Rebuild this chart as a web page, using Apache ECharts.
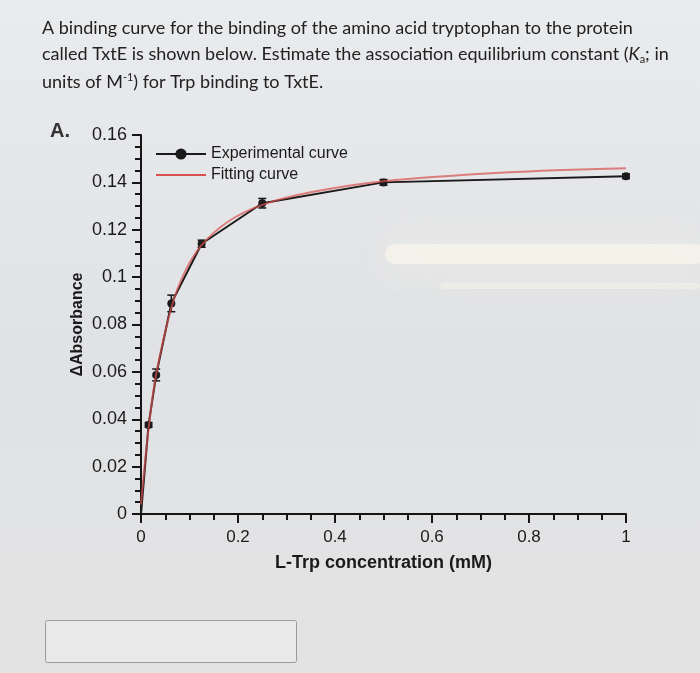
<!DOCTYPE html>
<html>
<head>
<meta charset="utf-8">
<script src="https://cdn.jsdelivr.net/npm/echarts@6/dist/echarts.min.js"></script>
<style>
  html, body { margin: 0; padding: 0; }
  #chart { width: 700px; height: 673px; }
</style>
</head>
<body>
<div id="chart"></div>
<script>
// experimental points (L-Trp mM, delta absorbance) + error
const expX = [0, 0.0156, 0.0313, 0.0625, 0.125, 0.25, 0.5, 1.0];
const expY = [0, 0.0376, 0.0587, 0.0889, 0.1141, 0.1312, 0.1400, 0.1426];
const expErr = [0, 0.001, 0.0025, 0.0035, 0.0015, 0.002, 0.0012, 0.001];

// fitting curve
const fitX = [0, 0.0156, 0.0313, 0.0625, 0.09, 0.125, 0.18, 0.25, 0.35, 0.5, 0.75, 1.0];
const fitY = [0.004, 0.036, 0.059, 0.087, 0.102, 0.1135, 0.1235, 0.1305, 0.1358, 0.1405, 0.1442, 0.146];

const questionLines = [
  "A binding curve for the binding of the amino acid tryptophan to the protein",
  "called TxtE is shown below. Estimate the association equilibrium constant ({i|K}{sub|a}; in",
  "units of M{sup|-1}) for Trp binding to TxtE."
];

const chart = echarts.init(document.getElementById("chart"));

const expData = expX.map((x, i) => ({
  value: [x, expY[i]],
  symbol: i === 0 ? "none" : "circle",
}));
const errData = expX.map((x, i) => [x, expY[i] - expErr[i], expY[i] + expErr[i]]);
const fitData = fitX.map((x, i) => [x, fitY[i]]);

const textFont = 'Lato, "Open Sans", sans-serif';
const axisFont = '"Liberation Sans", Arial, sans-serif';
const ink = "#151515";

let option = {
  backgroundColor: {
    type: "linear", x: 0, y: 0, x2: 0, y2: 1,
    colorStops: [
      { offset: 0, color: "#eaebed" },
      { offset: 0.5, color: "#e0e2e5" },
      { offset: 1, color: "#e3e3e3" },
    ],
  },
  animation: false,
  graphic: [
    // glare from the photo
    {
      type: "rect", z: 0, silent: true,
      shape: { x: 385, y: 244, width: 320, height: 20, r: 10 },
      style: { fill: "rgba(255,251,236,0.55)", shadowBlur: 45, shadowColor: "rgba(255,250,230,1)" },
    },
    {
      type: "rect", z: 0, silent: true,
      shape: { x: 440, y: 283, width: 260, height: 6, r: 3 },
      style: { fill: "rgba(255,251,236,0.35)", shadowBlur: 24, shadowColor: "rgba(255,250,230,0.9)" },
    },
    ...questionLines.map((t, i) => ({
      type: "text", left: 42, top: 19 + i * 26.5, z: 10,
      style: {
        text: t,
        font: `18px ${textFont}`,
        fill: "#222",
        rich: {
          i: { fontStyle: "italic", fontSize: 18, fontFamily: textFont, fill: "#222" },
          sub: { fontSize: 11, fontFamily: textFont, fill: "#222", padding: [9, 0, 0, 0] },
          sup: { fontSize: 11, fontFamily: textFont, fill: "#222", padding: [0, 0, 9, 0] },
        },
      },
    })),
    {
      type: "text", left: 50, top: 121, z: 10,
      style: { text: "A.", font: `bold 20px ${axisFont}`, fill: "#333" },
    },
    // answer box
    {
      type: "rect", z: 10,
      shape: { x: 45.5, y: 620.5, width: 251, height: 42, r: 2 },
      style: { fill: "rgba(236,237,238,0.6)", stroke: "#9a9b9d", lineWidth: 1 },
    },
  ],
  grid: { left: 141, right: 74, top: 135, bottom: 159 },
  legend: {
    left: 150, top: 141, orient: "vertical",
    itemWidth: 50, itemHeight: 14, itemGap: 5,
    textStyle: { fontFamily: axisFont, fontSize: 16, color: "#1a1a1a" },
    data: [
      { name: "Experimental curve" },
      { name: "Fitting curve", icon: "path://M0,6 L50,6 L50,8 L0,8 Z" },
    ],
  },
  xAxis: {
    type: "value", min: 0, max: 1, interval: 0.2,
    name: "L-Trp concentration (mM)", nameLocation: "middle", nameGap: 40,
    nameMoveOverlap: false,
    nameTextStyle: { fontFamily: axisFont, fontSize: 18, fontWeight: "bold", color: "#1a1a1a" },
    axisLine: { lineStyle: { color: ink, width: 2 } },
    axisTick: { length: 9, lineStyle: { color: ink, width: 2 } },
    minorTick: { show: true, splitNumber: 4, length: 6, lineStyle: { color: ink, width: 2 } },
    splitLine: { show: false },
    axisLabel: { margin: 15, fontFamily: axisFont, fontSize: 17, color: "#1a1a1a" },
  },
  yAxis: {
    type: "value", min: 0, max: 0.16, interval: 0.02,
    name: "\u0394Absorbance", nameLocation: "middle", nameGap: 55, nameRotate: 90,
    nameMoveOverlap: false,
    nameTextStyle: { fontFamily: axisFont, fontSize: 16, fontWeight: "bold", color: "#1a1a1a" },
    axisLine: { show: true, lineStyle: { color: ink, width: 2 } },
    axisTick: { show: true, length: 9, lineStyle: { color: ink, width: 2 } },
    minorTick: { show: true, splitNumber: 4, length: 6, lineStyle: { color: ink, width: 2 } },
    splitLine: { show: false },
    axisLabel: { margin: 14, fontFamily: axisFont, fontSize: 18, color: "#1a1a1a" },
  },
  series: [
    {
      type: "custom",
      name: "err",
      z: 3,
      data: errData,
      encode: { x: 0, y: [1, 2] },
      renderItem: (params, api) => {
        const x = api.value(0);
        const lo = api.coord([x, api.value(1)]);
        const hi = api.coord([x, api.value(2)]);
        const w = 4;
        const st = { stroke: ink, lineWidth: 1.5 };
        return {
          type: "group",
          children: [
            { type: "line", shape: { x1: lo[0], y1: lo[1], x2: hi[0], y2: hi[1] }, style: st },
            { type: "line", shape: { x1: lo[0] - w, y1: lo[1], x2: lo[0] + w, y2: lo[1] }, style: st },
            { type: "line", shape: { x1: hi[0] - w, y1: hi[1], x2: hi[0] + w, y2: hi[1] }, style: st },
          ],
        };
      },
    },
    {
      type: "line",
      name: "Experimental curve",
      z: 4,
      data: expData,
      symbol: "circle",
      symbolSize: 8,
      itemStyle: { color: "#1a1a1a" },
      lineStyle: { color: "#1a1a1a", width: 2 },
    },
    {
      type: "line",
      name: "Fitting curve",
      z: 5,
      data: fitData,
      smooth: 0.35,
      symbol: "none",
      itemStyle: { color: "#d9504e" },
      lineStyle: { color: "#d9504e", width: 2, opacity: 0.7 },
    },
  ],
};

chart.setOption(option);
</script>
</body>
</html>
